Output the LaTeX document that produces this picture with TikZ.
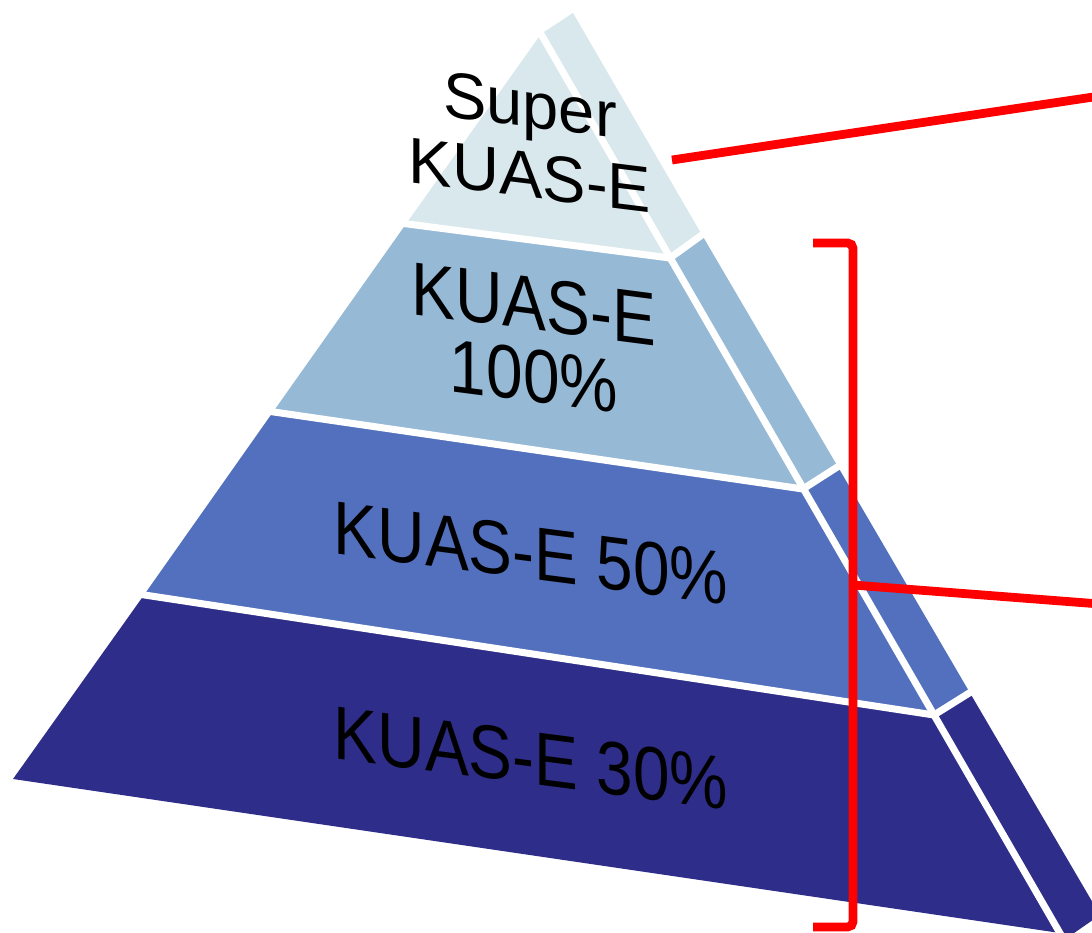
\documentclass[tikz,border=0pt]{standalone}
\usepackage{fontspec}
\setmainfont{Liberation Sans}
\definecolor{tierone}{RGB}{216,232,236}
\definecolor{tiertwo}{RGB}{150,185,214}
\definecolor{tierthree}{RGB}{82,112,190}
\definecolor{tierfour}{RGB}{46,45,137}
\begin{document}
\begin{tikzpicture}[x=0.02cm, y=-0.02cm,
    gap/.style={white, line width=4pt},
    redline/.style={red, line width=5pt},
    squeeze/.style={yslant=-0.13, xscale=0.87},
    tiertext/.style={transform shape, align=center, inner sep=0pt,
        font=\fontsize{43}{41}\selectfont},
    toptext/.style={transform shape, align=center, inner sep=0pt,
        font=\fontsize{37}{40}\selectfont}]
    \clip (0,0) rectangle (1092,933);

    % Front faces
    \fill[tierone] (541,34) -- (670,258) -- (406,224) -- cycle;
    \fill[tiertwo] (406,224) -- (670,258) -- (803,489) -- (273,412) -- cycle;
    \fill[tierthree] (273,412) -- (803,489) -- (934,715) -- (144,595) -- cycle;
    \fill[tierfour] (144,595) -- (934,715) -- (1060,933) -- (13,779) -- cycle;

    % Side faces
    \fill[tierone] (541,34) -- (573,13) -- (702,235) -- (670,258) -- cycle;
    \fill[tiertwo] (670,258) -- (702,235) -- (838,467) -- (803,489) -- cycle;
    \fill[tierthree] (803,489) -- (838,467) -- (970,693) -- (934,715) -- cycle;
    \fill[tierfour] (934,715) -- (970,693) -- (1100,915) -- (1064,940) -- cycle;

    % Gaps
    \draw[gap] (530,15) -- (1072,954);
    \foreach \xa/\ya/\xb/\yb/\xc/\yc in {400/223/670/258/706/232,
        267/411/803/489/842/464, 138/594/934/715/974/690} {
        \draw[gap] (\xa,\ya) -- (\xb,\yb) -- (\xc,\yc);
    }

    % Labels
    \begin{scope}[shift={(530,140)}, yslant=-0.124]
        \node[toptext] (superE) at (0,0) {Super\\KUAS-E};
    \end{scope}
    \begin{scope}[shift={(534,340)}, squeeze]
        \node[tiertext] (fullE) at (0,0) {KUAS-E\\100\%};
    \end{scope}
    \begin{scope}[shift={(531,553)}, squeeze]
        \node[tiertext] (halfE) at (0,0) {KUAS-E 50\%};
    \end{scope}
    \begin{scope}[shift={(531,758)}, squeeze]
        \node[tiertext] (thirtyE) at (0,0) {KUAS-E 30\%};
    \end{scope}

    % Red markers
    \coordinate (superin) at (672,160);
    \coordinate (superout) at (1100,96);
    \coordinate (brtop) at (813,243);
    \coordinate (brbot) at (813,927);
    \coordinate (brmid) at (853,585);
    \coordinate (brout) at (1100,604);
    \draw[redline] (superin) -- (superout);
    \draw[redline, rounded corners=3pt] (brtop) -| (brmid) |- (brbot);
    \draw[redline] (brmid) -- (brout);
\end{tikzpicture}
\end{document}
